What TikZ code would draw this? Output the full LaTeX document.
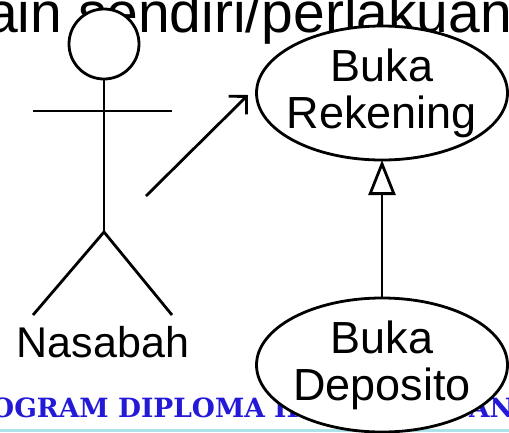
\documentclass[tikz,border=0pt]{standalone}
\usepackage{fontspec}
\setmainfont{Liberation Sans}
\newfontfamily\bannerfont{DejaVu Serif}
\usetikzlibrary{arrows.meta,shapes.geometric}
\definecolor{bannerblue}{RGB}{35,25,215}
\definecolor{bannercyan}{RGB}{175,225,235}
\begin{document}
\begin{tikzpicture}[x=1pt,y=-1pt,
  thick line/.style={line width=2.8pt},
  usecase/.style={ellipse, draw, line width=2.8pt, fill=white,
    minimum width=251pt, minimum height=134pt, inner xsep=-25pt, inner ysep=-25pt, outer sep=0pt,
    align=center, font=\fontsize{45}{47}\selectfont},
  banner/.style={inner sep=0pt, text=bannerblue, font=\bannerfont\bfseries\fontsize{26.5}{30}\selectfont},
  bigtext/.style={inner sep=0pt, font=\fontsize{57}{60}\selectfont},
  labeltext/.style={inner sep=0pt, font=\fontsize{43}{47}\selectfont}]
\useasboundingbox (0,0) rectangle (509,432);

% background texts
\node[bigtext, anchor=base west] (toptext) at (-14,32) {ain sendiri/perlakuan};
\node[banner, anchor=base west] (bannerL) at (-9,417) {OGRAM DIPLOMA III};
\node[banner, anchor=base east] (bannerR) at (514,417) {AN};
\fill[bannercyan] (0,429) rectangle (509,432);

% actor
\node[circle, draw, thick line, fill=white, minimum size=70pt, inner sep=0pt, outer sep=0pt] (head) at (104,44) {};
\coordinate (hip) at (104,232);
\coordinate (handL) at (33,111);
\coordinate (handR) at (172,111);
\coordinate (footL) at (33,315);
\coordinate (footR) at (172,315);
\draw[thick line] (head) -- (hip);
\draw[thick line] (handL) -- (handR);
\draw[thick line] (footL) -- (hip) -- (footR);
\node[labeltext, anchor=base] (actor) at (103,357) {Nasabah};

% use cases
\node[usecase] (rek) at (382,93) {Buka\\Rekening};
\node[usecase] (dep) at (382,365) {Buka\\Deposito};

% connectors
\draw[thick line, -{Triangle[open, length=35pt, width=27pt, fill=white]}] (dep) -- (rek);
\coordinate (assocA) at (146,196);
\coordinate (assocB) at (248,95);
\draw[thick line, -{Straight Barb[angle=90:18pt]}] (assocA) -- (assocB);
\end{tikzpicture}
\end{document}
